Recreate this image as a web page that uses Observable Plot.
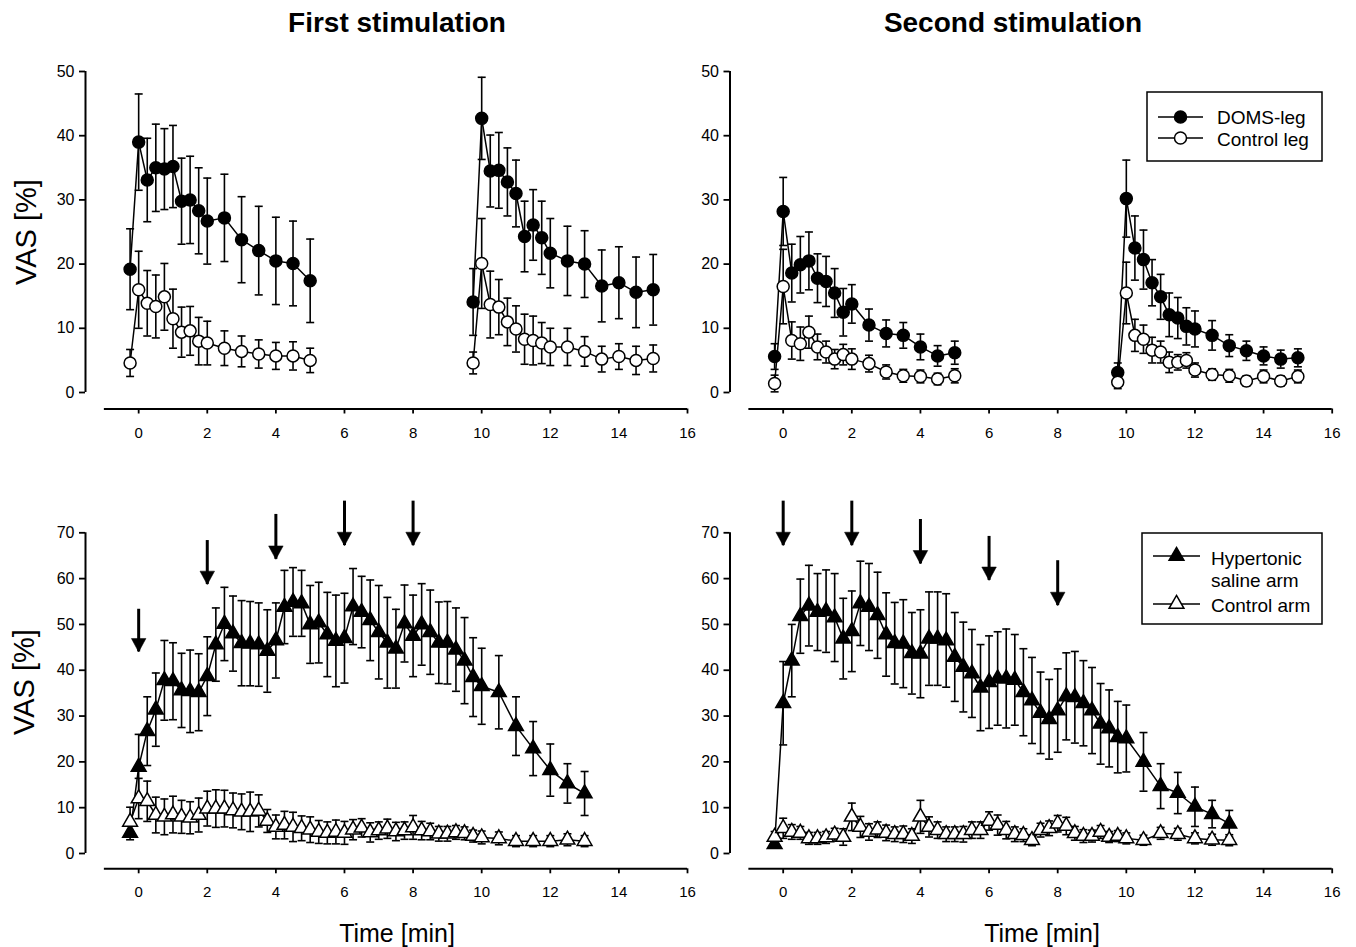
<!DOCTYPE html>
<html><head><meta charset="utf-8">
<script src="https://cdn.jsdelivr.net/npm/d3@7"></script>
<script src="https://cdn.jsdelivr.net/npm/@observablehq/plot@0.6"></script>
<style>
body{margin:0;background:#fff;width:1356px;height:947px;position:relative;overflow:hidden;font-family:"Liberation Sans",Arial,Helvetica,sans-serif;}
.panel{position:absolute;}
</style></head><body>
<script>
// ---------- DATA ----------
const xTicks = [0, 2, 4, 6, 8, 10, 12, 14, 16];
const yTicksTop = [0, 10, 20, 30, 40, 50];
const yTicksBottom = [0, 10, 20, 30, 40, 50, 60, 70];
const titles = ["First stimulation", "Second stimulation"];
const yLabel = "VAS [%]";
const xLabel = "Time [min]";
const legendTop = ["DOMS-leg", "Control leg"];
const legendBottom = [["Hypertonic", "saline arm"], ["Control arm"]];

// top panels: two stimulation bouts
const timeTop = [-0.25, 0, 0.25, 0.5, 0.75, 1, 1.25, 1.5, 1.75, 2, 2.5, 3, 3.5, 4, 4.5, 5,
  9.75, 10, 10.25, 10.5, 10.75, 11, 11.25, 11.5, 11.75, 12, 12.5, 13, 13.5, 14, 14.5, 15];

const firstDomsMean = [19.2, 39.0, 33.1, 35.0, 34.8, 35.2, 29.8, 30.0, 28.3, 26.7, 27.2, 23.8, 22.1, 20.5, 20.1, 17.4,
  14.1, 42.7, 34.5, 34.6, 32.8, 31.0, 24.3, 26.1, 24.1, 21.7, 20.5, 20.0, 16.6, 17.1, 15.6, 16.0];
const firstDomsSd = [6.3, 7.5, 6.5, 6.8, 6.3, 6.4, 6.7, 6.8, 6.7, 6.7, 6.8, 6.7, 6.9, 6.8, 6.6, 6.5,
  5.2, 6.4, 5.6, 5.9, 5.3, 5.2, 5.5, 5.5, 5.7, 5.4, 5.4, 5.2, 5.6, 5.6, 5.5, 5.5];
const firstCtrlLegMean = [4.6, 16.0, 13.9, 13.4, 14.9, 11.5, 9.4, 9.6, 8.0, 7.7, 6.9, 6.4, 6.0, 5.7, 5.7, 5.0,
  4.6, 20.1, 13.7, 13.3, 11.0, 9.9, 8.3, 8.1, 7.7, 7.1, 7.1, 6.4, 5.2, 5.6, 5.0, 5.3];
const firstCtrlLegSd = [2.1, 6.0, 5.1, 4.9, 5.2, 4.6, 3.9, 3.8, 3.7, 3.4, 2.7, 2.4, 2.2, 2.1, 2.2, 1.9,
  1.7, 7.0, 5.2, 4.3, 3.7, 3.6, 3.9, 3.8, 3.2, 2.9, 2.9, 2.3, 2.0, 2.0, 2.2, 2.1];

const secondDomsMean = [5.6, 28.2, 18.6, 19.9, 20.5, 17.8, 17.3, 15.5, 12.5, 13.8, 10.5, 9.2, 8.9, 7.1, 5.7, 6.2,
  3.1, 30.2, 22.5, 20.7, 17.1, 14.9, 12.1, 11.6, 10.3, 9.9, 8.9, 7.3, 6.5, 5.7, 5.2, 5.4];
const secondDomsSd = [2.0, 5.3, 4.5, 4.4, 4.5, 3.8, 3.9, 3.8, 3.7, 3.0, 2.5, 2.1, 2.0, 2.0, 1.6, 1.8,
  1.5, 6.0, 5.0, 4.6, 3.6, 3.5, 3.4, 3.2, 2.9, 2.8, 2.3, 1.7, 1.5, 1.4, 1.4, 1.4];
const secondCtrlLegMean = [1.4, 16.5, 8.1, 7.6, 9.4, 7.1, 6.3, 5.2, 5.9, 5.2, 4.5, 3.2, 2.6, 2.5, 2.1, 2.6,
  1.6, 15.5, 8.9, 8.3, 6.6, 6.3, 4.7, 4.7, 5.0, 3.5, 2.8, 2.6, 1.8, 2.5, 1.8, 2.5];
const secondCtrlLegSd = [1.3, 5.8, 2.9, 2.6, 2.5, 2.0, 1.7, 1.5, 1.6, 1.6, 1.3, 1.1, 1.0, 1.0, 0.9, 1.1,
  1.0, 4.8, 2.5, 2.2, 2.0, 1.7, 1.6, 1.2, 1.2, 1.1, 0.9, 1.0, 0.8, 1.0, 0.8, 1.0];

// bottom panels: continuous infusion
const timeBottom = [-0.25, 0, 0.25, 0.5, 0.75, 1, 1.25, 1.5, 1.75, 2, 2.25, 2.5, 2.75, 3, 3.25, 3.5, 3.75,
  4, 4.25, 4.5, 4.75, 5, 5.25, 5.5, 5.75, 6, 6.25, 6.5, 6.75, 7, 7.25, 7.5, 7.75, 8, 8.25, 8.5, 8.75,
  9, 9.25, 9.5, 9.75, 10, 10.5, 11, 11.5, 12, 12.5, 13];

const firstSalineMean = [4.5, 18.9, 26.7, 31.4, 37.8, 37.6, 35.6, 35.4, 35.2, 38.7, 45.6, 50.1, 48.0, 45.9, 45.8, 45.6, 44.2,
  46.5, 53.8, 54.9, 54.6, 50.0, 50.4, 47.8, 46.4, 47.0, 53.9, 52.7, 50.9, 48.3, 46.0, 44.7, 50.2, 47.5, 50.0, 48.3, 46.0,
  46.0, 44.5, 42.1, 38.5, 36.5, 35.2, 27.8, 22.9, 18.2, 15.3, 13.1];
const firstSalineSd = [1.5, 7.1, 7.5, 8.0, 8.7, 8.4, 8.1, 9.0, 8.4, 8.6, 8.0, 8.0, 8.2, 9.3, 9.2, 9.1, 9.0,
  8.2, 8.0, 7.5, 7.2, 8.5, 8.8, 9.2, 10.0, 9.8, 8.3, 7.8, 8.8, 10.2, 9.9, 8.6, 8.4, 8.9, 8.9, 9.2, 8.9,
  9.0, 9.1, 9.4, 8.6, 8.3, 8.0, 6.4, 5.9, 5.7, 4.3, 4.8];
const firstCtrlArmMean = [6.9, 12.0, 11.4, 8.4, 8.0, 8.5, 8.0, 7.8, 8.4, 9.8, 9.8, 9.8, 9.4, 9.1, 9.1, 9.3, 7.1,
  5.8, 6.2, 5.8, 5.5, 5.2, 4.7, 4.5, 4.7, 4.5, 5.2, 5.6, 4.6, 5.0, 5.4, 4.8, 5.0, 5.7, 5.0, 4.8, 4.3,
  4.3, 4.6, 4.4, 3.8, 3.5, 3.3, 2.7, 2.7, 2.7, 3.0, 2.7];
const firstCtrlArmSd = [3.2, 4.4, 4.4, 3.9, 3.9, 4.0, 3.6, 3.5, 3.7, 3.8, 4.1, 4.0, 3.8, 3.9, 4.3, 3.5, 2.5,
  2.6, 3.0, 3.2, 2.7, 2.8, 2.5, 2.4, 2.6, 2.5, 2.2, 2.0, 2.1, 1.9, 2.1, 2.0, 1.9, 2.6, 2.0, 1.8, 1.6,
  1.6, 1.5, 1.4, 1.3, 1.4, 1.4, 1.2, 1.2, 1.2, 1.3, 1.2];

const secondSalineMean = [2.0, 32.8, 42.1, 51.8, 54.1, 52.7, 52.9, 51.5, 46.9, 48.5, 54.6, 53.8, 52.0, 47.8, 45.9, 45.8, 43.7,
  43.6, 46.9, 46.9, 46.5, 42.9, 40.7, 39.3, 36.2, 37.4, 38.2, 38.2, 37.9, 35.2, 33.4, 30.7, 29.3, 31.2, 34.3, 34.1, 32.8,
  31.2, 28.3, 27.3, 25.4, 25.1, 20.0, 14.7, 13.2, 10.2, 8.6, 6.5];
const secondSalineSd = [0.8, 9.1, 7.9, 8.1, 8.8, 8.4, 9.0, 9.6, 8.8, 8.8, 9.2, 9.5, 9.4, 9.1, 8.9, 9.6, 8.9,
  9.6, 10.2, 10.2, 10.2, 9.7, 9.8, 9.6, 9.4, 10.1, 10.2, 10.8, 9.9, 9.5, 9.4, 8.9, 8.7, 9.1, 9.5, 10.0, 9.3,
  9.4, 8.8, 8.4, 7.8, 7.3, 6.4, 4.9, 4.5, 4.3, 3.0, 2.9];
const secondCtrlArmMean = [3.6, 5.5, 4.7, 4.5, 3.3, 3.3, 3.5, 4.1, 3.6, 8.0, 5.8, 4.7, 5.2, 4.5, 4.2, 4.2, 3.8,
  8.0, 5.8, 5.1, 4.2, 4.2, 4.2, 5.1, 5.1, 7.1, 6.2, 5.1, 4.2, 4.0, 2.9, 5.1, 5.5, 6.5, 6.0, 4.4, 3.8,
  3.8, 4.7, 3.6, 3.8, 3.3, 2.9, 4.4, 4.2, 3.3, 3.0, 2.9];
const secondCtrlArmSd = [1.2, 2.2, 1.6, 1.4, 1.3, 1.3, 1.3, 1.4, 1.8, 3.0, 2.3, 1.8, 1.7, 1.7, 1.6, 1.8, 1.6,
  3.6, 2.2, 1.8, 1.6, 1.6, 1.7, 1.8, 1.8, 2.0, 2.2, 1.9, 1.6, 1.4, 1.2, 1.5, 1.6, 1.8, 1.9, 1.5, 1.4,
  1.3, 1.4, 1.2, 1.2, 1.2, 1.1, 1.3, 1.3, 1.2, 1.2, 1.2];

// injection arrows (time, tip value, tail value)
const arrowTime = [0, 2, 4, 6, 8];
const firstArrowTip = [44.0, 58.7, 64.2, 67.2, 67.2];
const firstArrowTail = [52.0, 67.0, 72.7, 75.6, 75.6];
const secondArrowTip = [67.2, 67.2, 63.2, 59.6, 54.1];
const secondArrowTail = [75.6, 75.6, 71.6, 67.9, 62.6];

// ---------- RENDER ----------
const FONT = '"Liberation Sans", Arial, Helvetica, sans-serif';
const X_DOMAIN = [-1.55, 16];
const rows = (t, m, sd) => t.map((x, i) => ({t: x, m: m[i], sd: sd[i]}));
const capSymbol = {draw(ctx, size) { const r = Math.sqrt(size / Math.PI); ctx.moveTo(-r, 0); ctx.lineTo(r, 0); }};
const arrowHead = {draw(ctx, size) { const r = Math.sqrt(size / Math.PI); ctx.moveTo(0, 0); ctx.lineTo(-1.3 * r, -2.4 * r); ctx.lineTo(1.3 * r, -2.4 * r); ctx.closePath(); }};

function seriesMarks(data, opts) {
  const seg = d => (d.t > 8 && opts.split ? 1 : 0);
  return {
    under: [
      Plot.line(data, {x: "t", y: "m", z: seg, stroke: "black", strokeWidth: 1.5}),
      Plot.ruleX(data, {x: "t", y1: d => Math.max(0, d.m - d.sd), y2: d => d.m + d.sd, stroke: "black", strokeWidth: 1.6}),
      Plot.dot(data, {x: "t", y: d => d.m + d.sd, symbol: capSymbol, r: 4, fill: "none", stroke: "black", strokeWidth: 1.6}),
      Plot.dot(data, {x: "t", y: d => Math.max(0, d.m - d.sd), symbol: capSymbol, r: 4, fill: "none", stroke: "black", strokeWidth: 1.6})
    ],
    over: [
      Plot.dot(data, {x: "t", y: "m", symbol: opts.symbol, r: opts.r, fill: opts.filled ? "black" : "white", stroke: "black", strokeWidth: 1.5})
    ]
  };
}

function panel(cfg) {
  const marks = [
    Plot.ruleX([X_DOMAIN[0]], {y1: 0, y2: cfg.yMax, stroke: "black", strokeWidth: 2}),
    Plot.ruleY([cfg.yMin], {x1: -1, x2: 16, stroke: "black", strokeWidth: 2}),
    Plot.axisY({ticks: cfg.yTicks, tickSize: 6, tickPadding: 5, fontSize: 16, strokeWidth: 1.8, label: null}),
    Plot.axisX({ticks: xTicks, tickSize: 5, tickPadding: 13, fontSize: 15, strokeWidth: 1.8, label: null})
  ];
  if (cfg.arrows) {
    marks.push(Plot.ruleX(cfg.arrows, {x: "t", y1: "tip", y2: "tail", stroke: "black", strokeWidth: 3, insetBottom: 6}));
    marks.push(Plot.dot(cfg.arrows, {x: "t", y: "tip", symbol: arrowHead, r: 5.6, fill: "black", stroke: "black", strokeWidth: 0.5}));
  }
  const s = cfg.series.map(([data, o]) => seriesMarks(data, o));
  s.forEach(m => marks.push(...m.under));
  s.forEach(m => marks.push(...m.over));
  const svg = Plot.plot({
    width: cfg.width, height: cfg.height,
    marginLeft: cfg.mL, marginRight: cfg.mR, marginTop: cfg.mT, marginBottom: cfg.mB,
    x: {domain: X_DOMAIN, axis: null},
    y: {domain: [cfg.yMin, cfg.yMax], axis: null},
    style: {fontFamily: FONT, background: "transparent", overflow: "visible", color: "black"},
    marks
  });
  svg.classList.add("panel");
  svg.style.left = cfg.left + "px";
  svg.style.top = cfg.top + "px";
  svg.style.maxWidth = "none";
  document.body.appendChild(svg);
}

const arrowsFirst = arrowTime.map((t, i) => ({t, tip: firstArrowTip[i], tail: firstArrowTail[i]}));
const arrowsSecond = arrowTime.map((t, i) => ({t, tip: secondArrowTip[i], tail: secondArrowTail[i]}));

const topCommon = {top: 40, height: 420, mT: 31, mB: 51.5, yMin: -2.57, yMax: 50, yTicks: yTicksTop};
const botCommon = {top: 470, height: 440, mT: 62.3, mB: 41.7, yMin: -3.34, yMax: 70, yTicks: yTicksBottom};
const leftCommon = {left: 0, width: 690, mL: 85, mR: 3};
const rightCommon = {left: 690, width: 666, mL: 39.5, mR: 24.3};

panel({...topCommon, ...leftCommon, series: [
  [rows(timeTop, firstDomsMean, firstDomsSd), {symbol: "circle", r: 6, filled: true, split: true}],
  [rows(timeTop, firstCtrlLegMean, firstCtrlLegSd), {symbol: "circle", r: 6, filled: false, split: true}]
]});
panel({...topCommon, ...rightCommon, series: [
  [rows(timeTop, secondDomsMean, secondDomsSd), {symbol: "circle", r: 6, filled: true, split: true}],
  [rows(timeTop, secondCtrlLegMean, secondCtrlLegSd), {symbol: "circle", r: 6, filled: false, split: true}]
]});
panel({...botCommon, ...leftCommon, arrows: arrowsFirst, series: [
  [rows(timeBottom, firstSalineMean, firstSalineSd), {symbol: "triangle", r: 5.5, filled: true}],
  [rows(timeBottom, firstCtrlArmMean, firstCtrlArmSd), {symbol: "triangle", r: 5.5, filled: false}]
]});
panel({...botCommon, ...rightCommon, arrows: arrowsSecond, series: [
  [rows(timeBottom, secondSalineMean, secondSalineSd), {symbol: "triangle", r: 5.5, filled: true}],
  [rows(timeBottom, secondCtrlArmMean, secondCtrlArmSd), {symbol: "triangle", r: 5.5, filled: false}]
]});

// ---------- TEXT & LEGENDS (overlay) ----------
const ov = d3.select("body").append("svg")
  .attr("width", 1356).attr("height", 947)
  .style("position", "absolute").style("left", 0).style("top", 0)
  .style("pointer-events", "none")
  .attr("font-family", FONT);

function txt(x, y, s, size, o = {}) {
  return ov.append("text").attr("x", x).attr("y", y).attr("font-size", size)
    .attr("text-anchor", o.anchor || "middle").attr("dominant-baseline", "central")
    .attr("font-weight", o.bold ? "bold" : null)
    .attr("transform", o.rotate ? `rotate(${o.rotate},${x},${y})` : null)
    .text(s);
}
txt(397, 22, titles[0], 28, {bold: true});
txt(1013, 22, titles[1], 28, {bold: true});
txt(26, 232, yLabel, 29, {rotate: -90});
txt(24, 682, yLabel, 29, {rotate: -90});
txt(397, 933, xLabel, 25);
txt(1042, 933, xLabel, 25);

function legendItem(x1, x2, y, sym, r, filled) {
  ov.append("line").attr("x1", x1).attr("x2", x2).attr("y1", y).attr("y2", y).attr("stroke", "black").attr("stroke-width", 1.5);
  ov.append("path").attr("d", d3.symbol(sym, Math.PI * r * r)())
    .attr("transform", `translate(${(x1 + x2) / 2},${y})`)
    .attr("fill", filled ? "black" : "white").attr("stroke", "black").attr("stroke-width", 1.5);
}
// top legend
ov.append("rect").attr("x", 1147).attr("y", 92).attr("width", 175).attr("height", 69)
  .attr("fill", "white").attr("stroke", "black").attr("stroke-width", 1.5);
legendItem(1158, 1203, 117, d3.symbolCircle, 6, true);
legendItem(1158, 1203, 138, d3.symbolCircle, 6, false);
txt(1217, 117, legendTop[0], 19, {anchor: "start"});
txt(1217, 139, legendTop[1], 19, {anchor: "start"});
// bottom legend
ov.append("rect").attr("x", 1142).attr("y", 533).attr("width", 180).attr("height", 91)
  .attr("fill", "white").attr("stroke", "black").attr("stroke-width", 1.5);
legendItem(1153, 1200, 556, d3.symbolTriangle, 5.5, true);
legendItem(1153, 1200, 604, d3.symbolTriangle, 5.5, false);
txt(1211, 558, legendBottom[0][0], 19, {anchor: "start"});
txt(1211, 580, legendBottom[0][1], 19, {anchor: "start"});
txt(1211, 605, legendBottom[1][0], 19, {anchor: "start"});
</script>
</body></html>
